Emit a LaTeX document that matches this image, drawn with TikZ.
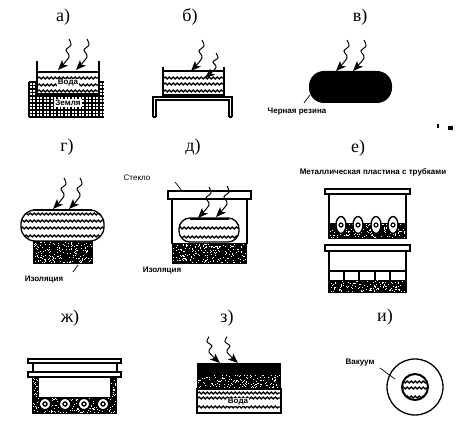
\documentclass[tikz,border=0pt]{standalone}
\usepackage{fontspec}
\setmainfont{Liberation Serif}
\newfontfamily\capfont{Liberation Sans}
\usetikzlibrary{arrows.meta,decorations.pathmorphing}

% un rayo: #2 es la punta de la flecha
\newcommand{\ray}[2][]{\draw[ray,shift={#2},#1] plot[smooth] coordinates {(11,-31) (13,-25) (8,-20) (11,-13) (0,0)};}
% tierra: negro con puntos blancos al azar
\newcommand{\soil}[4]{\fill[black] (#1,#2) rectangle (#3,#4);
    \pgfmathtruncatemacro{\nspeck}{(#3-#1)*(#4-#2)/8}
    \foreach \i in {1,...,\nspeck} {
        \pgfmathsetmacro{\sx}{#1+0.5+rnd*(#3-#1-2)}
        \pgfmathsetmacro{\sy}{#2+0.5+rnd*(#4-#2-2)}
        \fill[white] (\sx,\sy) rectangle ++(1,1);
    }}
% agua: lineas onduladas
\newcommand{\waves}[3]{\foreach \yy in {#3} {\draw[wave] (#1,\yy) -- (#2,\yy);}}

\begin{document}
\begin{tikzpicture}[x=1pt,y=-1pt,
    tag/.style={font=\fontsize{18}{18}\selectfont},
    lab/.style={font=\capfont\bfseries\fontsize{8}{8}\selectfont,inner sep=0.5pt},
    ray/.style={line width=1pt,-{Stealth[length=10pt,width=8pt,inset=2.5pt]}},
    wave/.style={line width=1.4pt,decorate,decoration={snake,amplitude=0.9pt,segment length=4pt}},
    wall/.style={line width=1.3pt},
    glass/.style={line width=1.3pt,fill=white}]
    \useasboundingbox (0,0) rectangle (469,435);
    \pgfmathsetseed{7}

    % a)
    \node[tag] (taga) at (63,17) {а)};
    \foreach \xx in {29,32.5,...,104} {\draw[line width=1.3pt] (\xx,82) -- (\xx,117);}
    \foreach \yy in {82,85.5,...,117} {\draw[line width=1.3pt] (29,\yy) -- (104,\yy);}
    \fill[white] (37,60) rectangle (99,94);
    \waves{38}{98}{78,85,91}
    \draw[wall] (37,61) -- (37,94) -- (99,94) -- (99,61);
    \draw[line width=1.6pt] (37,72) -- (99,72);
    \ray{(58,70)}
    \ray{(76,70)}
    \node[lab,fill=white] (water1) at (68,83) {Вода};
    \node[lab,fill=white,inner sep=1.5pt] (earth) at (68,103) {Земля};

    % b)
    \node[tag] (tagb) at (190,17) {б)};
    \draw[wall] (163,67) -- (163,95) -- (224,95) -- (224,67);
    \draw[line width=1.6pt] (163,71) -- (224,71);
    \waves{164}{223}{78,84,91}
    \draw[line width=1.6pt] (153,117) -- (153,97) -- (232,97) -- (232,117);
    \draw[line width=1.2pt] (156,117) -- (156,100) -- (229,100) -- (229,117);
    \draw[line width=1.2pt] (153,117) -- (156,117);
    \draw[line width=1.2pt] (229,117) -- (232,117);
    \ray{(191,71)}
    \ray[yscale=0.8]{(205,78)}

    % c)
    \node[tag] (tagc) at (360,17) {в)};
    \fill[black,rounded corners=15pt] (309,71) rectangle (392,103);
    \ray{(336,71)}
    \ray{(353,71)}
    \node[lab] (rubber) at (297,112) {Черная резина};
    \coordinate (rubberstart) at (304,103);
    \coordinate (rubberend) at (310,95);
    \draw[line width=0.7pt] (rubberstart) -- (rubberend);
    % restos del escaneo
    \fill (437,124) rectangle (439,128);
    \fill (448,126) rectangle (453,130);

    % d)
    \node[tag] (tagd) at (67,147) {г)};
    \soil{33}{241}{93}{264}
    \begin{scope}
        \clip[rounded corners=14pt] (21,210) rectangle (104,241);
        \fill[white] (21,210) rectangle (104,241);
        \waves{21}{104}{214,221,228,236}
    \end{scope}
    \draw[wall,rounded corners=14pt] (21,210) rectangle (104,241);
    \draw[line width=1.6pt] (33,210) -- (92,210);
    \ray{(53,209)}
    \ray{(69,209)}
    \node[lab] (ins1) at (44,280) {Изоляция};
    \coordinate (ins1end) at (78,265);
    \coordinate (ins1start) at (73,272);
    \draw[line width=0.7pt] (ins1start) -- (ins1end);

    % e)
    \node[tag] (tage) at (193,147) {д)};
    \node[lab,font=\capfont\fontsize{8}{8}\selectfont] (glass1) at (137,178) {Стекло};
    \coordinate (glass1a) at (175,182);
    \coordinate (glass1b) at (182,191);
    \draw[line width=0.7pt] (glass1a) -- (glass1b);
    \soil{172}{243}{247}{264}
    \draw[wall] (172,199) -- (172,244);
    \draw[wall] (247,199) -- (247,244);
    \begin{scope}
        \clip[rounded corners=11pt] (179,218) rectangle (239,242);
        \fill[white] (179,218) rectangle (239,242);
        \waves{179}{239}{228,237}
    \end{scope}
    \draw[wall,rounded corners=11pt] (179,218) rectangle (239,242);
    \draw[line width=1.8pt] (190,219) -- (229,219);
    \draw[glass] (168,191) rectangle (251,199);
    \ray{(198,218)}
    \ray{(216,217)}
    \node[lab] (ins2) at (162,271) {Изоляция};

    % f)
    \node[tag] (tagf) at (358,148) {е)};
    \node[lab] (plate) at (373,172) {Металлическая пластина с трубками};
    \soil{329}{223}{406}{239}
    \draw[wall] (329,194) -- (329,239);
    \draw[wall] (406,194) -- (406,239);
    \foreach \xx in {341,358,376,393} {
        \draw[line width=1.4pt,fill=white] (\xx,225) ellipse (5 and 8.5);
        \draw[line width=1.2pt] (\xx,225) circle (2);
    }
    \draw[glass] (325,189) rectangle (410,194);
    \soil{329}{280}{406}{293}
    \draw[wall] (329,251) -- (329,293);
    \draw[wall] (406,251) -- (406,293);
    \draw[line width=1.6pt] (329,271) -- (406,271);
    \foreach \xx in {344,359,375,390} {\draw[line width=1.2pt] (\xx,271) -- (\xx,280);}
    \draw[glass] (325,245) rectangle (410,251);

    % g)
    \node[tag] (tagg) at (70,318) {ж)};
    \soil{32}{377}{39}{414}
    \soil{110}{377}{117}{414}
    \soil{32}{397}{117}{414}
    \draw[wall] (33,363) -- (33,372);
    \draw[wall] (117,363) -- (117,372);
    \foreach \xx in {45,65,84,103} {
        \draw[line width=2pt,fill=white] (\xx,404) circle (6);
        \draw[line width=1.4pt] (\xx,404) circle (2);
    }
    \draw[glass] (28,359) rectangle (121,363);
    \draw[glass] (28,372) rectangle (121,377);

    % h)
    \node[tag] (tagh) at (227,318) {з)};
    \soil{197}{374}{281}{389}
    \fill[black] (197,363) rectangle (281,374);
    \waves{198}{280}{393,398,407}
    \draw[wall] (197,389) rectangle (281,413);
    \node[lab,fill=white] (water2) at (238,402) {Вода};
    \ray[xscale=-1,yscale=0.85]{(220,363)}
    \ray[xscale=-1,yscale=0.85]{(238,363)}

    % i)
    \node[tag] (tagi) at (385,317) {и)};
    \node[lab] (vacuum) at (360,363) {Вакуум};
    \coordinate (vacuumend) at (395,379);
    \coordinate (vacuumstart) at (380,368);
    \begin{scope}
        \clip (415,387) circle (13);
        \waves{402}{428}{382,388,397}
    \end{scope}
    \draw[line width=2pt] (415,387) circle (13);
    \draw[line width=1.3pt] (415,387) circle (28);
    \draw[line width=0.7pt] (vacuumstart) -- (vacuumend);
\end{tikzpicture}
\end{document}
